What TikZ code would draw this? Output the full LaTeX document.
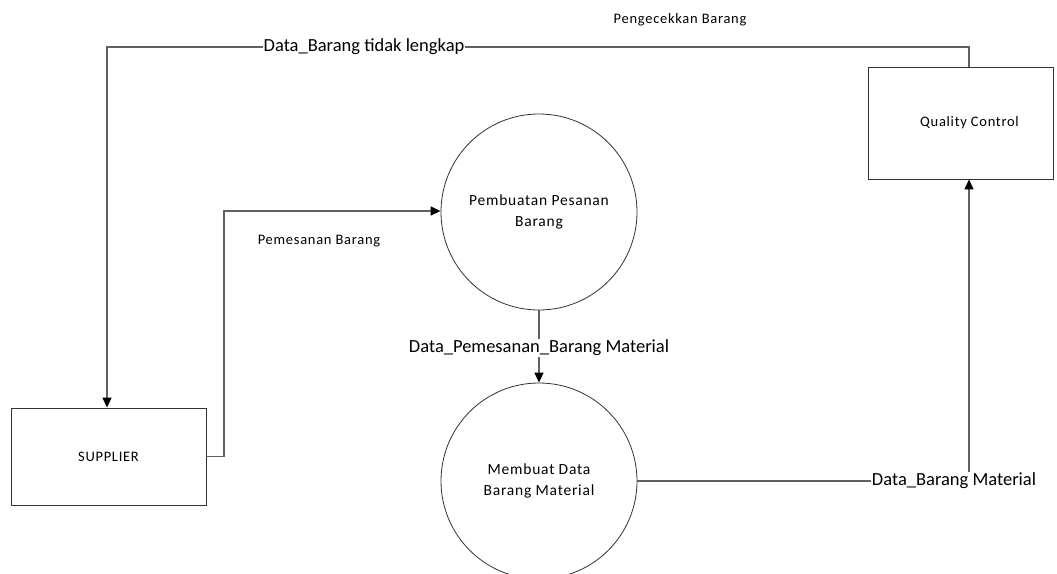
\documentclass[tikz,border=0pt]{standalone}
\usepackage{fontspec}
\setmainfont{Carlito}
\newfontfamily\spacedfont[LetterSpace=5]{Carlito}
\usetikzlibrary{arrows.meta}
\begin{document}
\begin{tikzpicture}[x=1pt,y=-1pt,
  entity/.style={draw=black!80, line width=0.9pt, inner sep=0pt},
  proc/.style={circle, draw=black!80, line width=0.8pt, minimum size=196pt, inner sep=0pt,
    align=center, font=\spacedfont\fontsize{15.5}{20.5}\selectfont},
  flow/.style={draw=black!62, line width=1.4pt},
  arr/.style={flow, -{Triangle[length=10pt,width=9pt,color=black,fill=black]}},
  small/.style={font=\spacedfont\fontsize{14.5}{17}\selectfont, inner sep=0pt},
  big/.style={font=\fontsize{18.5}{22}\selectfont, fill=white, inner sep=1pt}]
\useasboundingbox (0,0) rectangle (1057,573);

% external entities
\node[entity, minimum width=195pt, minimum height=97pt, small] (sup) at (108.5,456.5) {SUPPLIER};
\node[entity, minimum width=185pt, minimum height=112pt] (qc) at (960.5,123) {};
\node[small] (qctext) at (969.5,123) {Quality Control};

% processes
\node[proc] (p1) at (539,212) {Pembuatan Pesanan\\Barang};
\node[proc, yshift=0pt] (p2) at (539,481) {Membuat Data\\Barang Material};

% bend points
\coordinate (b1) at (224,456.5);
\coordinate (b2) at (224,211);
\coordinate (c1) at (969,481);
\coordinate (t1) at (969,47);
\coordinate (t2) at (107,47);

% flows
\draw[arr] (sup.east) -- (b1) -- (b2) -- (p1.west |- b2);
\node[small] (lpes) at (319,241) {Pemesanan Barang};

\draw[arr] (p1.south) -- (p2.north);
\node[big] (ldpb) at (539,348) {Data\_Pemesanan\_Barang Material};

\draw[arr] (p2.east) -- (c1) -- (qc.south -| c1);
\node[big] (ldbm) at (954,481) {Data\_Barang Material};

\draw[arr] (qc.north -| t1) -- (t1) -- (t2) -- (sup.north -| t2);
\node[big] (ldbt) at (364,47) {Data\_Barang tidak lengkap};

\node[small] (lcek) at (680,20) {Pengecekkan Barang};
\end{tikzpicture}
\end{document}
